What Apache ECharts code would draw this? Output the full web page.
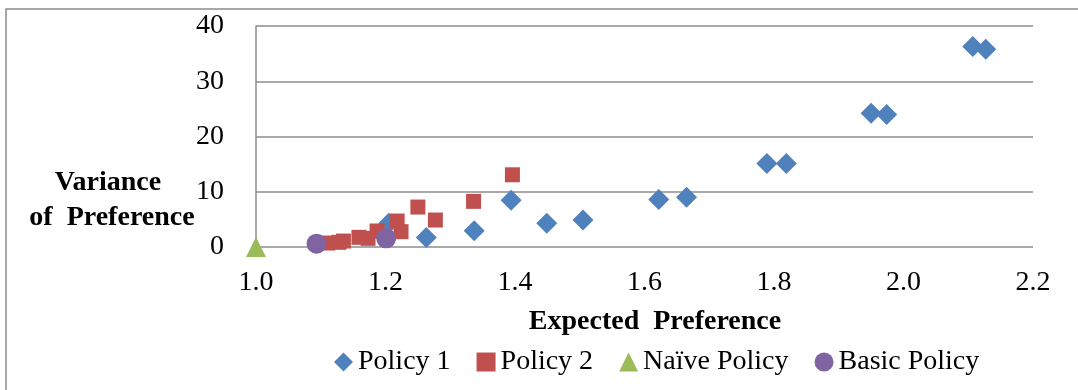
<!DOCTYPE html>
<html>
<head>
<meta charset="utf-8">
<script src="https://cdn.jsdelivr.net/npm/echarts@6/dist/echarts.min.js"></script>
<style>
  html, body { margin: 0; padding: 0; background: #fff; }
  #chart { width: 1078px; height: 390px; }
</style>
</head>
<body>
<div id="chart"></div>
<script>
// Expected preference (x) vs variance of preference (y) for each policy
const policy1 = [
  [1.205, 4.3], [1.263, 1.7], [1.337, 2.95], [1.394, 8.45], [1.449, 4.3],
  [1.505, 4.9], [1.622, 8.6], [1.665, 9.0], [1.789, 15.1], [1.819, 15.1],
  [1.950, 24.2], [1.974, 24.0], [2.107, 36.3], [2.127, 35.8]
];
const policy2 = [
  [1.111, 0.72], [1.128, 0.85], [1.135, 1.08], [1.159, 1.75], [1.173, 1.57],
  [1.187, 2.9], [1.218, 4.7], [1.224, 2.77], [1.250, 7.23], [1.277, 4.88],
  [1.336, 8.26], [1.396, 13.07]
];
const naivePolicy = [[1.0, 0]];
const basicPolicy = [[1.0935, 0.6], [1.201, 1.57]];

const seriesNames = ['Policy 1', 'Policy 2', 'Naïve Policy', 'Basic Policy'];
const xTitle = 'Expected  Preference';
const yTitleLines = ['Variance', 'of  Preference'];

const FONT = '"Liberation Serif", "Times New Roman", serif';
const GRAY = '#8c8c8c';

function titleText(text, x, y) {
  return {
    type: 'text', x: x, y: y, silent: true,
    style: {
      text: text, fontFamily: FONT, fontSize: 28, fontWeight: 'bold',
      fill: '#000', align: 'center', verticalAlign: 'middle'
    }
  };
}

const chart = echarts.init(document.getElementById('chart'));
chart.setOption({
  animation: false,
  backgroundColor: '#fff',
  textStyle: { fontFamily: FONT, color: '#000' },
  grid: { left: 256, right: 45, top: 26, bottom: 143 },
  xAxis: {
    type: 'value', min: 1.0, max: 2.2, interval: 0.2,
    axisLine: { show: false },
    axisTick: { show: false },
    splitLine: { show: false },
    axisLabel: {
      fontFamily: FONT, fontSize: 28, color: '#000', margin: 22,
      formatter: v => v.toFixed(1)
    }
  },
  yAxis: {
    type: 'value', min: 0, max: 40, interval: 10,
    axisLine: { show: true, lineStyle: { color: GRAY, width: 1.5 } },
    axisTick: { show: false },
    splitLine: { show: true, lineStyle: { color: GRAY, width: 1.5 } },
    axisLabel: { fontFamily: FONT, fontSize: 28, color: '#000', margin: 32 }
  },
  legend: {
    data: [
      { name: seriesNames[0], icon: 'diamond' },
      { name: seriesNames[1], icon: 'rect' },
      { name: seriesNames[2], icon: 'triangle' },
      { name: seriesNames[3], icon: 'circle' }
    ],
    left: 329, top: 343, itemWidth: 19, itemHeight: 19, itemGap: 26,
    textStyle: { fontFamily: FONT, fontSize: 28, color: '#000' }
  },
  graphic: [
    {
      type: 'rect', silent: true, z: -1,
      shape: { x: 6, y: 9, width: 1100, height: 420 },
      style: { fill: 'none', stroke: GRAY, lineWidth: 1.5 }
    },
    titleText(yTitleLines[0], 108, 183),
    titleText(yTitleLines[1], 112, 218),
    titleText(xTitle, 655, 322)
  ],
  series: [
    {
      name: seriesNames[0], type: 'scatter', data: policy1,
      symbol: 'diamond', symbolSize: 21, z: 2,
      itemStyle: { color: '#4f81bd', opacity: 1 }
    },
    {
      name: seriesNames[1], type: 'scatter', data: policy2,
      symbol: 'rect', symbolSize: 15, z: 3,
      itemStyle: { color: '#c0504d', opacity: 1 }
    },
    {
      name: seriesNames[2], type: 'scatter', data: naivePolicy,
      symbol: 'triangle', symbolSize: 20, z: 4,
      itemStyle: { color: '#9bbb59', opacity: 1 }
    },
    {
      name: seriesNames[3], type: 'scatter', data: basicPolicy,
      symbol: 'circle', symbolSize: 20, z: 5,
      itemStyle: { color: '#8064a2', opacity: 1 }
    }
  ]
});
</script>
</body>
</html>
